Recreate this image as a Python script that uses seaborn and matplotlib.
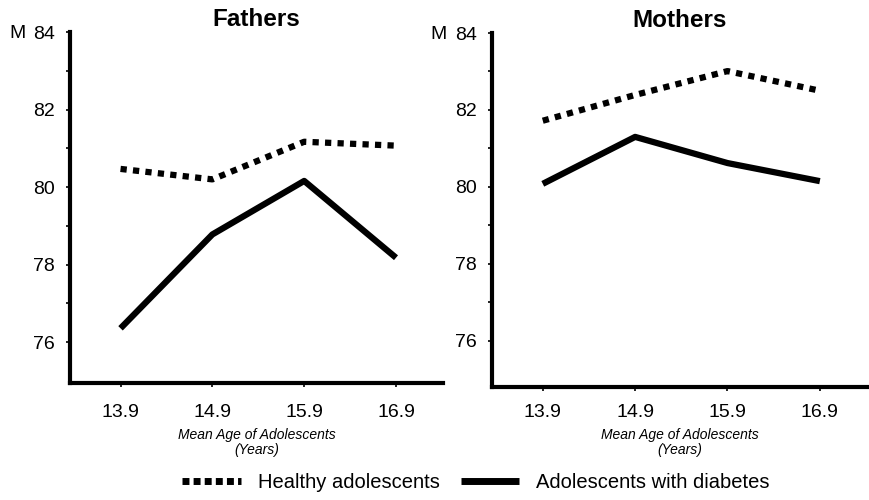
import matplotlib
matplotlib.use("Agg")
import matplotlib.pyplot as plt
from matplotlib.lines import Line2D
import seaborn as sns
import pandas as pd

ages = [13.9, 14.9, 15.9, 16.9]
groups = ["Healthy adolescents", "Adolescents with diabetes"]
fathers_healthy = [80.47, 80.2, 81.17, 81.07]
fathers_diabetes = [76.36, 78.78, 80.16, 78.18]
mothers_healthy = [81.72, 82.39, 83.01, 82.5]
mothers_diabetes = [80.08, 81.3, 80.62, 80.15]
panel_titles = ["Fathers", "Mothers"]
y_ticks = [76, 78, 80, 82, 84]

rows = []
for parent, healthy, diabetes in [("Fathers", fathers_healthy, fathers_diabetes),
                                  ("Mothers", mothers_healthy, mothers_diabetes)]:
    for a, h, d in zip(ages, healthy, diabetes):
        rows.append({"parent": parent, "age": a, "group": groups[0], "value": h})
        rows.append({"parent": parent, "age": a, "group": groups[1], "value": d})
df = pd.DataFrame(rows)

sns.set_theme(style="white")
plt.rcParams["font.family"] = ["Liberation Sans", "DejaVu Sans"]
for key in ["text.color", "axes.labelcolor", "xtick.color", "ytick.color"]:
    plt.rcParams[key] = "black"

fig = plt.figure(figsize=(8.7, 5.0), dpi=100)
ax_left = fig.add_axes([0.0805, 0.234, 0.4285, 0.702])
ax_right = fig.add_axes([0.5655, 0.226, 0.431, 0.708])

dash_map = {groups[0]: (1, 1), groups[1]: ""}

for ax, title, ylo, xpad in [(ax_left, panel_titles[0], 74.95, 12),
                             (ax_right, panel_titles[1], 74.8, 9)]:
    sub = df[df["parent"] == title]
    sns.lineplot(data=sub, x="age", y="value", style="group", style_order=groups,
                 dashes=dash_map, color="black", linewidth=4.5, ax=ax, legend=False)
    ax.set_title(title, fontsize=17.5, fontweight="bold", pad=4)
    ax.set_xlim(13.35, 17.41)
    ax.set_ylim(ylo, 84.0)
    ax.set_xticks(ages)
    ax.set_xticklabels([f"{a:.1f}" for a in ages], fontsize=14)
    ax.set_yticks(y_ticks)
    ax.set_yticklabels([str(t) for t in y_ticks], fontsize=14)
    ax.set_yticks([77, 79, 81, 83], minor=True)
    ax.tick_params(axis="both", which="both", direction="out", length=3, width=1.2,
                   color="black", left=True, bottom=True)
    ax.tick_params(axis="x", pad=xpad)
    ax.tick_params(axis="y", pad=8)
    ax.set_xlabel("Mean Age of Adolescents\n(Years)", fontsize=10, fontstyle="italic",
                  labelpad=5, linespacing=1.15)
    ax.set_ylabel("")
    for side in ["top", "right"]:
        ax.spines[side].set_visible(False)
    for side in ["left", "bottom"]:
        ax.spines[side].set_linewidth(3)
        ax.spines[side].set_color("black")
    ax.text(-0.12, 0.997, "M", transform=ax.transAxes, fontsize=14,
            ha="right", va="center")
    for line in ax.get_lines():
        line.set_solid_capstyle("butt")
        line.set_dash_capstyle("butt")

handles = [
    Line2D([], [], color="black", linewidth=5, dashes=(1.0, 0.6), dash_capstyle="butt"),
    Line2D([], [], color="black", linewidth=5, solid_capstyle="butt"),
]
fig.legend(handles, groups, loc="center", bbox_to_anchor=(0.547, 0.034), ncol=2,
           frameon=False, fontsize=14.5, handlelength=2.9, columnspacing=1.05,
           handletextpad=0.85)

fig.savefig("out.png", dpi=100, facecolor="white")
